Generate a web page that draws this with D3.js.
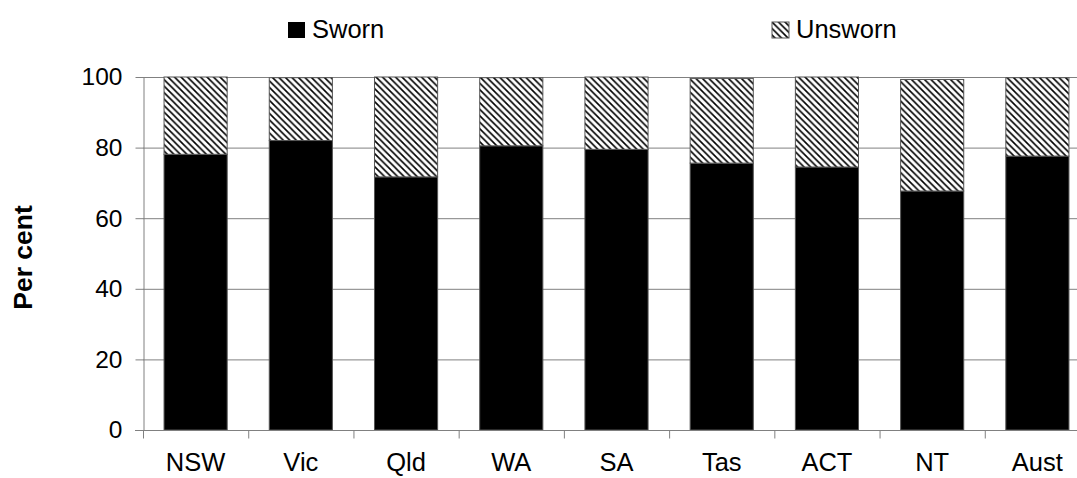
<!DOCTYPE html>
<html>
<head>
<meta charset="utf-8">
<script src="https://cdn.jsdelivr.net/npm/d3@7"></script>
<style>
  body { margin: 0; background: #fff; }
  svg { display: block; font-family: "Liberation Sans", Arial, sans-serif; }
</style>
</head>
<body>
<svg id="chart"></svg>
<script>
// values (per cent)
const jurisdictions = ["NSW", "Vic", "Qld", "WA", "SA", "Tas", "ACT", "NT", "Aust"];
const sworn = [78.1, 82.0, 71.7, 80.5, 79.5, 75.6, 74.5, 67.7, 77.6];
const unsworn = [21.9, 17.8, 28.3, 19.3, 20.5, 24.0, 25.5, 31.6, 22.2];
const yTicks = [0, 20, 40, 60, 80, 100];
const seriesNames = ["Sworn", "Unsworn"];

function main() {
    const width = 1077, height = 478;
    const svg = d3.select("#chart").attr("width", width).attr("height", height);

    // plot area runs a little past the right edge, like the original
    const left = 143, right = 1090, top = 77, bottom = 430;

    const defs = svg.append("defs");
    const pat = defs.append("pattern")
        .attr("id", "hatch")
        .attr("patternUnits", "userSpaceOnUse")
        .attr("width", 6.5).attr("height", 6.5);
    pat.append("rect").attr("width", 6.5).attr("height", 6.5).attr("fill", "#fff");
    pat.append("path")
        .attr("d", "M-1,-1 L7.5,7.5 M-1,5.5 L1,7.5 M5.5,-1 L7.5,1")
        .attr("stroke", "#000")
        .attr("stroke-width", 1.6);

    const x = d3.scaleBand()
        .domain(jurisdictions)
        .range([left, right])
        .paddingInner(0.4)
        .paddingOuter(0.2);

    const y = d3.scaleLinear().domain([0, 100]).range([bottom, top]);

    // gridlines
    svg.append("g")
        .selectAll("line")
        .data(yTicks.filter(d => d > 0))
        .join("line")
        .attr("x1", left).attr("x2", right)
        .attr("y1", d => y(d) + 0.5).attr("y2", d => y(d) + 0.5)
        .attr("stroke", "#808080")
        .attr("stroke-width", 1);

    // stacked bars
    const rows = jurisdictions.map((j, i) => ({ key: j, Sworn: sworn[i], Unsworn: unsworn[i] }));
    const stacked = d3.stack().keys(seriesNames)(rows);
    const fills = { Sworn: "#000", Unsworn: "url(#hatch)" };

    svg.append("g")
        .selectAll("g")
        .data(stacked)
        .join("g")
        .attr("fill", d => fills[d.key])
        .selectAll("rect")
        .data(d => d)
        .join("rect")
        .attr("x", d => x(d.data.key))
        .attr("y", d => y(d[1]))
        .attr("width", x.bandwidth())
        .attr("height", d => y(d[0]) - y(d[1]))
        .attr("stroke", "#555")
        .attr("stroke-width", 1);

    // y axis
    const yAxis = svg.append("g")
        .attr("transform", `translate(${left + 0.5},0)`)
        .call(d3.axisLeft(y).tickValues(yTicks).tickSize(8).tickSizeOuter(0));
    yAxis.select(".domain").attr("stroke", "#808080");
    yAxis.selectAll(".tick line").attr("stroke", "#808080");
    yAxis.selectAll(".tick text")
        .attr("x", -21)
        .attr("font-size", 24.5)
        .attr("font-family", "Liberation Sans, Arial, sans-serif")
        .attr("fill", "#000");

    // x axis with ticks between the categories
    const xAxis = svg.append("g").attr("transform", `translate(0,${bottom + 0.5})`);
    xAxis.append("line")
        .attr("x1", left - 8).attr("x2", right)
        .attr("stroke", "#808080");
    const step = x.step();
    xAxis.selectAll(".sep")
        .data(d3.range(jurisdictions.length + 1))
        .join("line")
        .attr("class", "sep")
        .attr("x1", i => left + i * step + 0.5)
        .attr("x2", i => left + i * step + 0.5)
        .attr("y1", 0).attr("y2", 8)
        .attr("stroke", "#808080");
    xAxis.selectAll("text")
        .data(jurisdictions)
        .join("text")
        .attr("x", d => x(d) + x.bandwidth() / 2)
        .attr("y", 40)
        .attr("text-anchor", "middle")
        .attr("font-size", 25.5)
        .text(d => d);

    // y axis title
    svg.append("text")
        .text("Per cent")
        .attr("font-size", 26.5)
        .attr("font-weight", "bold")
        .attr("text-anchor", "middle")
        .attr("transform", `translate(32,${(top + bottom) / 2 + 4}) rotate(-90)`);

    // legend
    const legendX = [288, 772];
    const legend = svg.append("g")
        .selectAll("g")
        .data(seriesNames)
        .join("g")
        .attr("transform", (d, i) => `translate(${legendX[i]},22)`);
    legend.append("rect")
        .attr("width", 17).attr("height", 16)
        .attr("fill", d => fills[d])
        .attr("stroke", d => d === "Unsworn" ? "#555" : "none");
    legend.append("text")
        .attr("x", 24).attr("y", 16)
        .attr("font-size", 25.5)
        .text(d => d);
}

main();
</script>
</body>
</html>
